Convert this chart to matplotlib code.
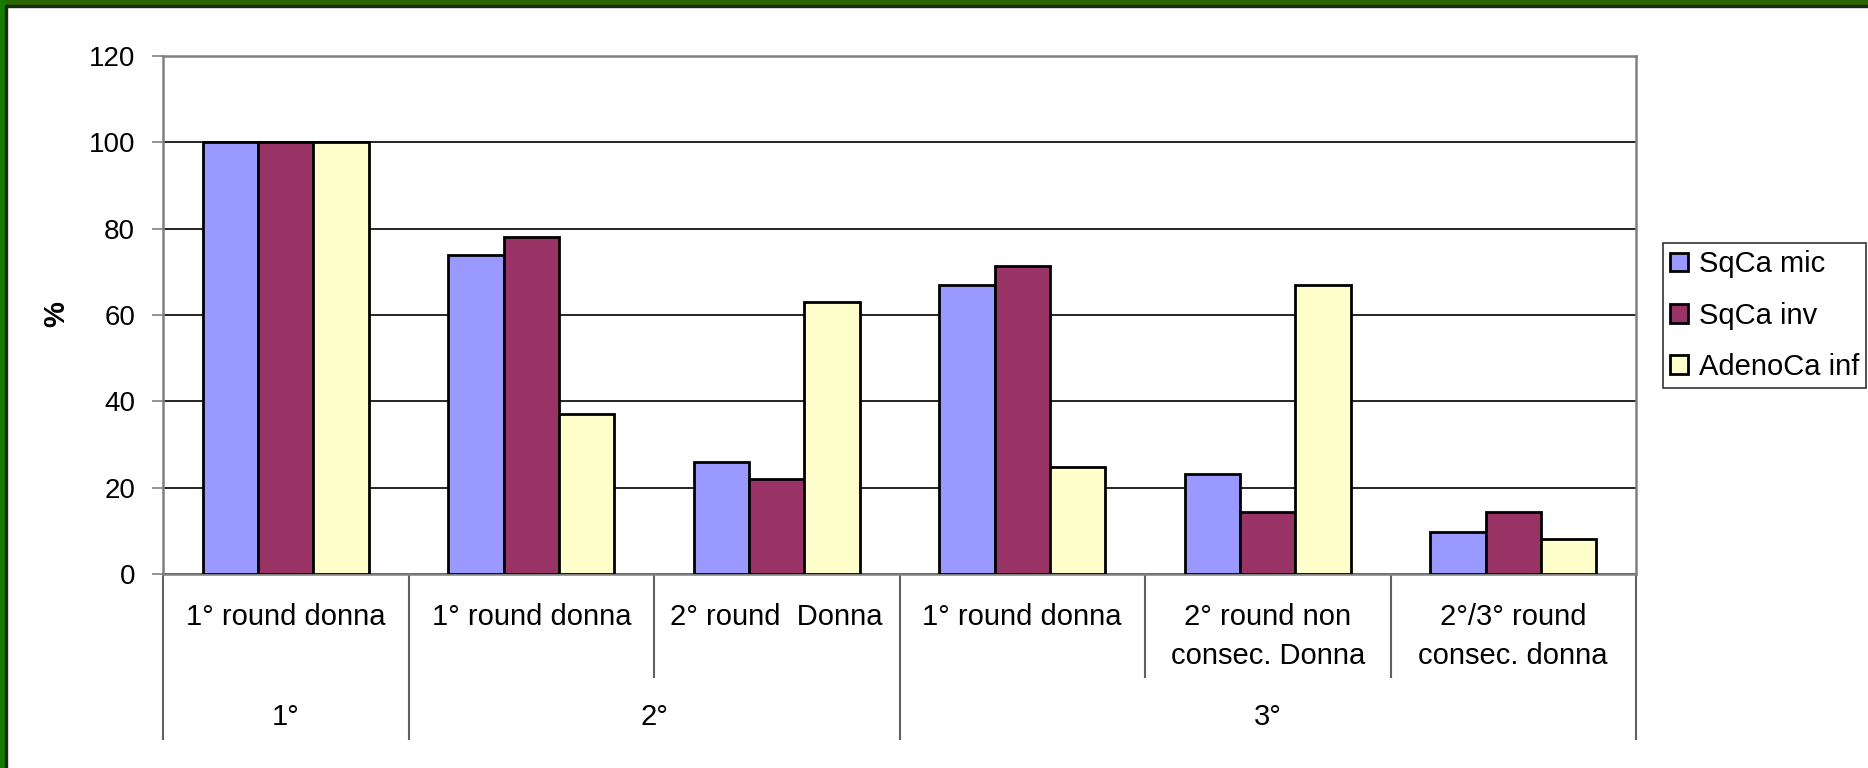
"""Percentages of SqCa mic / SqCa inv / AdenoCa inf by screening round."""

import matplotlib

matplotlib.use("Agg")
import matplotlib.pyplot as plt
import numpy as np
from matplotlib.patches import Rectangle

plt.rcParams["font.family"] = ["Liberation Sans", "DejaVu Sans"]

# data
CATEGORIES = [
    "1° round donna",
    "1° round donna",
    "2° round  Donna",
    "1° round donna",
    "2° round non\nconsec. Donna",
    "2°/3° round\nconsec. donna",
]
GROUPS = ["1°", "2°", "3°"]
GROUP_SPANS = [(0, 0), (1, 2), (3, 5)]

SERIES = ["SqCa mic", "SqCa inv", "AdenoCa inf"]
SQCA_MIC = [100, 74.0, 25.9, 66.9, 23.1, 9.8]
SQCA_INV = [100, 78.1, 22.1, 71.4, 14.3, 14.3]
ADENO_INF = [100, 37.0, 63.0, 24.8, 66.9, 8.2]
COLORS = ["#9999FF", "#993366", "#FFFFCC"]

W, H = 1868, 768

fig = plt.figure(figsize=(W / 100, H / 100), dpi=100)
ax = fig.add_axes([163 / W, 1 - 574 / H, (1636 - 163) / W, (574 - 56) / H])

x = np.arange(len(CATEGORIES))
width = 0.225
for i, (vals, color, label) in enumerate(zip([SQCA_MIC, SQCA_INV, ADENO_INF], COLORS, SERIES)):
    ax.bar(x + (i - 1) * width, vals, width, color=color, edgecolor="black",
           linewidth=2, label=label, zorder=3)

ax.set_xlim(-0.5, len(CATEGORIES) - 0.5)
ax.set_ylim(0, 120)
ax.set_yticks(np.arange(0, 121, 20))
ax.tick_params(axis="y", labelsize=20, length=8, width=1.2, color="#808080", pad=12)
ax.set_xticks([])
ax.grid(axis="y", color="black", linewidth=1.2, zorder=0)
for sp in ax.spines.values():
    sp.set_color("#808080")
    sp.set_linewidth(1.8)

# category labels and separators under the axis
tr = ax.get_xaxis_transform()
ax_h = 574 - 56
for xi, lab in zip(x, CATEGORIES):
    ax.text(xi, -(603 - 574) / ax_h, lab, transform=tr, ha="center", va="top",
            fontsize=21, linespacing=1.5)
for (a, b), g in zip(GROUP_SPANS, GROUPS):
    ax.text((a + b) / 2, -(717 - 574) / ax_h, g, transform=tr, ha="center",
            va="center", fontsize=21)

full_bounds = [-0.5] + [b + 0.5 for _, b in GROUP_SPANS]
inner_bounds = [b + 0.5 for b in range(len(CATEGORIES) - 1) if b + 0.5 not in full_bounds]
for xb in full_bounds:
    ax.plot([xb, xb], [0, -(739 - 574) / ax_h], transform=tr, color="#606060",
            linewidth=1.5, clip_on=False)
for xb in inner_bounds:
    ax.plot([xb, xb], [0, -(677 - 574) / ax_h], transform=tr, color="#606060",
            linewidth=1.5, clip_on=False)

fig.text(56 / W, 1 - 314 / H, "%", rotation=90, ha="center", va="center",
         fontsize=21, fontweight="bold")

leg = fig.legend(loc="upper left", bbox_to_anchor=(1663 / W, 1 - 243 / H),
                 borderaxespad=0, fontsize=21, frameon=True, fancybox=False,
                 handlelength=0.62, handleheight=0.62, handletextpad=0.35,
                 borderpad=0.25, labelspacing=0.8)
leg.get_frame().set_edgecolor("black")
leg.get_frame().set_linewidth(1.2)

# green frame on top and left edges
fig.patches.append(Rectangle((0, 1 - 5 / H), 1, 5 / H, transform=fig.transFigure,
                             color="#2b6500", zorder=10))
fig.patches.append(Rectangle((0, 1 - 6.5 / H), 1, 1.5 / H, transform=fig.transFigure,
                             color="#1a2a10", zorder=10))
fig.patches.append(Rectangle((0, 0), 5 / W, 1, transform=fig.transFigure,
                             color="#157a00", zorder=10))
fig.patches.append(Rectangle((5 / W, 0), 1.5 / W, 1 - 5 / H, transform=fig.transFigure,
                             color="#1a2a10", zorder=10))

fig.savefig("out.png", dpi=100)
